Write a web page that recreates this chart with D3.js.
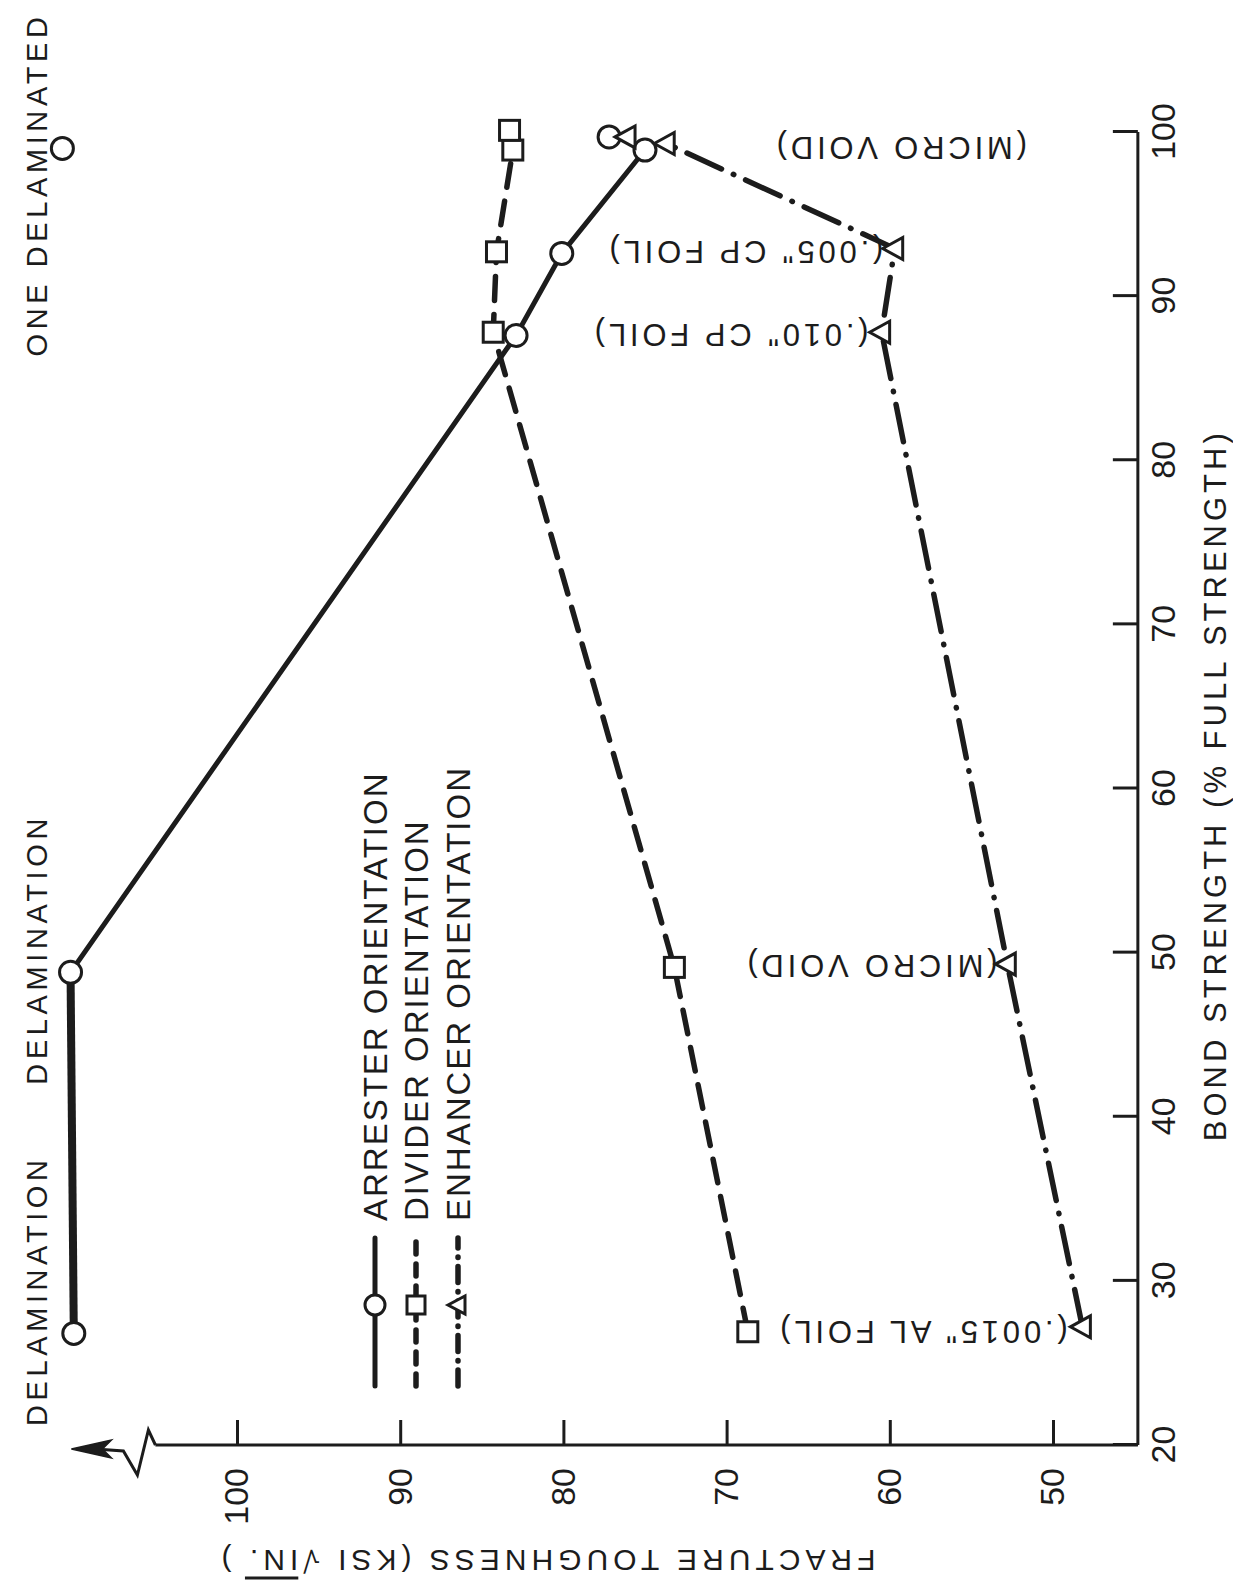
<!DOCTYPE html>
<html>
<head>
<meta charset="utf-8">
<script src="https://cdn.jsdelivr.net/npm/d3@7"></script>
<style>
  body { margin: 0; background: #fff; }
  svg text { font-family: "Liberation Sans", Arial, sans-serif; fill: #1c1c1c; }
</style>
</head>
<body>
<div class="chart"></div>
<script>
// ---- data (bond strength %, fracture toughness ksi sqrt(in)) ----
var arresterBond  = [26.8, 48.8, 87.6, 92.6, 98.9];
var arresterTough = [110.0, 110.2, 82.9, 80.1, 75.0];
var arresterLooseBond  = [99.7, 99.0];
var arresterLooseTough = [77.2, 110.7];

var dividerBond  = [26.9, 49.1, 87.8, 92.7, 98.9, 100.1];
var dividerTough = [68.7, 73.2, 84.3, 84.1, 83.1, 83.3];

var enhancerBond  = [27.2, 49.3, 87.8, 92.9, 99.3];
var enhancerTough = [48.2, 52.8, 60.5, 59.7, 73.7];
var enhancerLooseBond  = [99.7];
var enhancerLooseTough = [76.1];

var bondTicks  = [20, 30, 40, 50, 60, 70, 80, 90, 100];
var toughTicks = [50, 60, 70, 80, 90, 100];

var noteText  = ["(MICRO VOID)", "(.005\" CP FOIL)", "(.010\" CP FOIL)", "(MICRO VOID)", "(.0015\" AL FOIL)"];
var noteBond  = [99.0, 92.7, 87.6, 49.2, 26.9];
var noteTough = [51.6, 60.4, 61.3, 53.4, 49.1];

var topText = ["DELAMINATION", "DELAMINATION", "ONE DELAMINATED"];
var topBond = [29.4, 50.2, 96.8];

var legendNames = ["ARRESTER ORIENTATION", "DIVIDER ORIENTATION", "ENHANCER ORIENTATION"];

// ---- setup ----
var svgWidth = 1233;
var svgHeight = 1594;

var svg = d3.select(".chart").append("svg")
  .attr("width", svgWidth)
  .attr("height", svgHeight);

// chart is drawn normally, then turned a quarter turn counter-clockwise
var chart = svg.append("g")
  .attr("transform", `translate(0, ${svgHeight}) rotate(-90)`);

var xB = d3.scaleLinear().domain([20, 100]).range([149, 1462]);
var yT = d3.scaleLinear().domain([50, 100]).range([1053, 237]);
var toughFloor = 44.8;
var ink = "#1c1c1c";

// page coordinates of a chart point (for the unrotated decorations)
function pageX(t) { return yT(t); }
function pageY(b) { return svgHeight - xB(b); }

// ---- axes ----
var bondAxis = chart.append("g")
  .attr("transform", `translate(0, ${yT(toughFloor)})`)
  .call(d3.axisBottom(xB).tickValues(bondTicks).tickSize(-25).tickPadding(13));

var toughAxis = chart.append("g")
  .attr("transform", `translate(${xB(20)}, 0)`)
  .call(d3.axisLeft(yT).tickValues(toughTicks).tickSize(-25).tickPadding(23));

[bondAxis, toughAxis].forEach(function (a) {
  a.select(".domain").remove();
  a.selectAll("line").attr("stroke", ink).attr("stroke-width", 3);
  a.selectAll("text")
    .attr("font-size", 34)
    .attr("font-family", "Liberation Sans, Arial, sans-serif")
    .attr("fill", ink);
});

chart.append("line")
  .attr("x1", xB(20)).attr("x2", xB(100))
  .attr("y1", yT(toughFloor)).attr("y2", yT(toughFloor))
  .attr("stroke", ink).attr("stroke-width", 3);

chart.append("line")
  .attr("x1", xB(20)).attr("x2", xB(20))
  .attr("y1", yT(toughFloor)).attr("y2", yT(105))
  .attr("stroke", ink).attr("stroke-width", 3);

// axis break + arrow (page space)
var ex = pageX(105), ey = pageY(20);
var zig = [[0, 0], [-7, -15], [-18, 30], [-32, 6], [-60, 4]];
svg.append("path")
  .attr("d", d3.line()(zig.map(p => [ex + p[0], ey + p[1]])))
  .attr("fill", "none").attr("stroke", ink).attr("stroke-width", 3)
  .attr("stroke-linejoin", "miter");
svg.append("path")
  .attr("d", d3.line()([[-84, 4], [-44, -5], [-53, 4], [-44, 13]].map(p => [ex + p[0], ey + p[1]])) + "Z")
  .attr("fill", ink).attr("stroke", ink).attr("stroke-width", 1.5);

// axis titles
chart.append("text")
  .attr("x", xB(60.2)).attr("y", 1215).attr("dy", "0.35em")
  .attr("text-anchor", "middle")
  .attr("font-size", 31).attr("letter-spacing", 4)
  .text("BOND STRENGTH (% FULL STRENGTH)");

var yTitle = chart.append("text")
  .attr("transform", `translate(34, 546) rotate(-90)`)
  .attr("dy", "0.35em")
  .attr("text-anchor", "middle")
  .attr("font-size", 30).attr("letter-spacing", 5);
yTitle.append("tspan").text("FRACTURE  TOUGHNESS  (KSI \u221A");
yTitle.append("tspan").attr("text-decoration", "overline").text("IN.");
yTitle.append("tspan").text(" )");

// ---- lines ----
var line = d3.line().x(d => xB(d[0])).y(d => yT(d[1]));
var arr = d3.zip(arresterBond, arresterTough);
var div = d3.zip(dividerBond, dividerTough);
var enh = d3.zip(enhancerBond, enhancerTough);

chart.append("path").attr("d", line(arr.slice(0, 2)))
  .attr("fill", "none").attr("stroke", ink).attr("stroke-width", 8);
chart.append("path").attr("d", line(arr.slice(1)))
  .attr("fill", "none").attr("stroke", ink).attr("stroke-width", 5);

var dashDiv = "24,14";
var dashEnh = "38,13,0.5,13";

chart.append("path").attr("d", line(div))
  .attr("fill", "none").attr("stroke", ink).attr("stroke-width", 5.5)
  .attr("stroke-dasharray", dashDiv).attr("stroke-linecap", "round");

chart.append("path").attr("d", line(enh))
  .attr("fill", "none").attr("stroke", ink).attr("stroke-width", 5.5)
  .attr("stroke-dasharray", dashEnh).attr("stroke-linecap", "round");

// ---- markers ----
var triPath = "M0,-12L11,8L-11,8Z";

function circles(data) {
  chart.append("g").selectAll("circle").data(data).enter().append("circle")
    .attr("cx", d => xB(d[0])).attr("cy", d => yT(d[1])).attr("r", 11)
    .attr("fill", "#fff").attr("stroke", ink).attr("stroke-width", 3);
}
function squares(data) {
  chart.append("g").selectAll("rect").data(data).enter().append("rect")
    .attr("x", d => xB(d[0]) - 10).attr("y", d => yT(d[1]) - 10)
    .attr("width", 20).attr("height", 20)
    .attr("fill", "#fff").attr("stroke", ink).attr("stroke-width", 3);
}
function triangles(data) {
  chart.append("g").selectAll("path").data(data).enter().append("path")
    .attr("d", triPath)
    .attr("transform", d => `translate(${xB(d[0])}, ${yT(d[1])})`)
    .attr("fill", "#fff").attr("stroke", ink).attr("stroke-width", 3);
}

squares(div);
circles(arr);
circles(d3.zip(arresterLooseBond, arresterLooseTough));
triangles(enh);
triangles(d3.zip(enhancerLooseBond, enhancerLooseTough));

// ---- notes along the points ----
chart.append("g").selectAll("text")
  .data(d3.zip(noteText, noteBond, noteTough))
  .enter().append("text")
  .attr("transform", d => `translate(${xB(d[1])}, ${yT(d[2])}) rotate(-90)`)
  .attr("dy", "0.36em")
  .attr("font-size", 31).attr("letter-spacing", 3.8)
  .text(d => d[0]);

chart.append("g").selectAll("text")
  .data(d3.zip(topText, topBond))
  .enter().append("text")
  .attr("x", d => xB(d[1])).attr("y", yT(112.3)).attr("dy", "0.36em")
  .attr("text-anchor", "middle")
  .attr("font-size", 29).attr("letter-spacing", 4.6)
  .text(d => d[0]);

// ---- legend ----
var legRows = [375, 416, 458];
var legStyles = [
  { w: 5, dash: null },
  { w: 5.5, dash: "12,10" },
  { w: 5.5, dash: "16,9,0.5,9" }
];
legendNames.forEach(function (name, i) {
  var y = legRows[i];
  chart.append("line")
    .attr("x1", 208).attr("x2", 356).attr("y1", y).attr("y2", y)
    .attr("stroke", ink).attr("stroke-width", legStyles[i].w)
    .attr("stroke-linecap", "round")
    .attr("stroke-dasharray", legStyles[i].dash);
  if (i === 0) {
    chart.append("circle").attr("cx", 289).attr("cy", y).attr("r", 10)
      .attr("fill", "#fff").attr("stroke", ink).attr("stroke-width", 3);
  } else if (i === 1) {
    chart.append("rect").attr("x", 280).attr("y", y - 9).attr("width", 18).attr("height", 18)
      .attr("fill", "#fff").attr("stroke", ink).attr("stroke-width", 3);
  } else {
    chart.append("path").attr("d", "M0,-10L9,7L-9,7Z")
      .attr("transform", `translate(289, ${y})`)
      .attr("fill", "#fff").attr("stroke", ink).attr("stroke-width", 3);
  }
  chart.append("text")
    .attr("x", 373).attr("y", y).attr("dy", "0.36em")
    .attr("font-size", 33).attr("letter-spacing", 2)
    .text(name);
});
</script>
</body>
</html>
